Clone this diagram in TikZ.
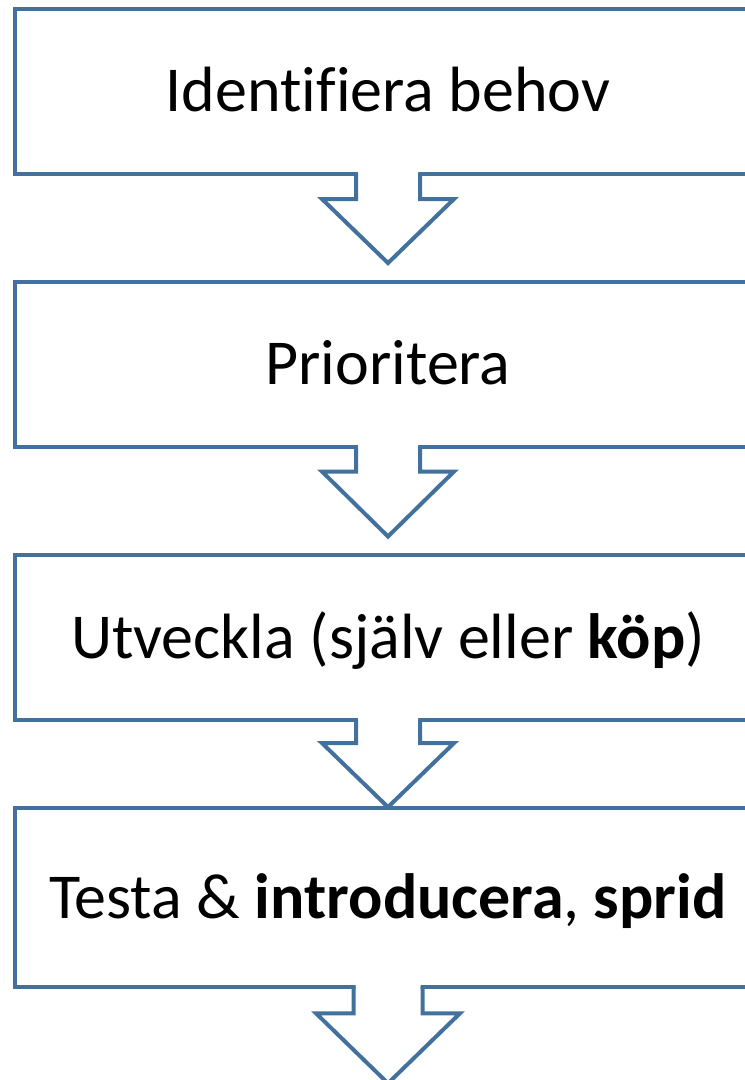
\documentclass[tikz,border=0pt]{standalone}
\usepackage{fontspec}
\setmainfont{Carlito}[Ligatures=CommonOff]
\usetikzlibrary{calc}
\definecolor{flowblue}{RGB}{65,113,156}
\tikzset{
  flowbox/.style={draw=flowblue, line width=4pt, fill=white, outer sep=0pt,
    minimum width=746pt, inner sep=0pt, text height=41pt, text depth=0pt,
    font=\fontsize{64}{72}\selectfont, line join=miter},
  arrline/.style={draw=flowblue, line width=4pt, line join=miter}
}
\newcommand\blockarrow[5]{%
  \coordinate (s) at (#1.south);
  \fill[white] ($(s)+(-#2+2,-2.5)$) -- ($(s)+(-#2+2,#3)$) -- ($(s)+(-#4,#3)$) -- ($(s)+(0,#3+#5)$) -- ($(s)+(#4,#3)$) -- ($(s)+(#2-2,#3)$) -- ($(s)+(#2-2,-2.5)$) -- cycle;
  \draw[arrline] ($(s)+(-#2,0)$) -- ($(s)+(-#2,#3)$) -- ($(s)+(-#4,#3)$) -- ($(s)+(0,#3+#5)$) -- ($(s)+(#4,#3)$) -- ($(s)+(#2,#3)$) -- ($(s)+(#2,0)$);
}
\begin{document}
\begin{tikzpicture}[x=1pt,y=-1pt]
\useasboundingbox (0,0) rectangle (745,1080);
\clip (0,0) rectangle (745,1080);
\node[flowbox, minimum height=164.5pt] (b1) at (388,91.25) {Identifiera behov};
\node[flowbox, minimum height=164.5pt] (b2) at (388,364.25) {Prioritera};
\node[flowbox, minimum height=165pt] (b3) at (388,637.6) {Utveckla (själv eller \textbf{köp})};
\node[flowbox, minimum height=178.4pt] (b4) at (388,897.5) {Testa \& \textbf{introducera}, \textbf{sprid}};
\blockarrow{b1}{32}{25.5}{66}{64}
\blockarrow{b2}{32}{25}{66}{65}
\blockarrow{b3}{32}{23}{66}{64}
\blockarrow{b4}{34.5}{26.6}{72}{70}
\end{tikzpicture}
\end{document}
